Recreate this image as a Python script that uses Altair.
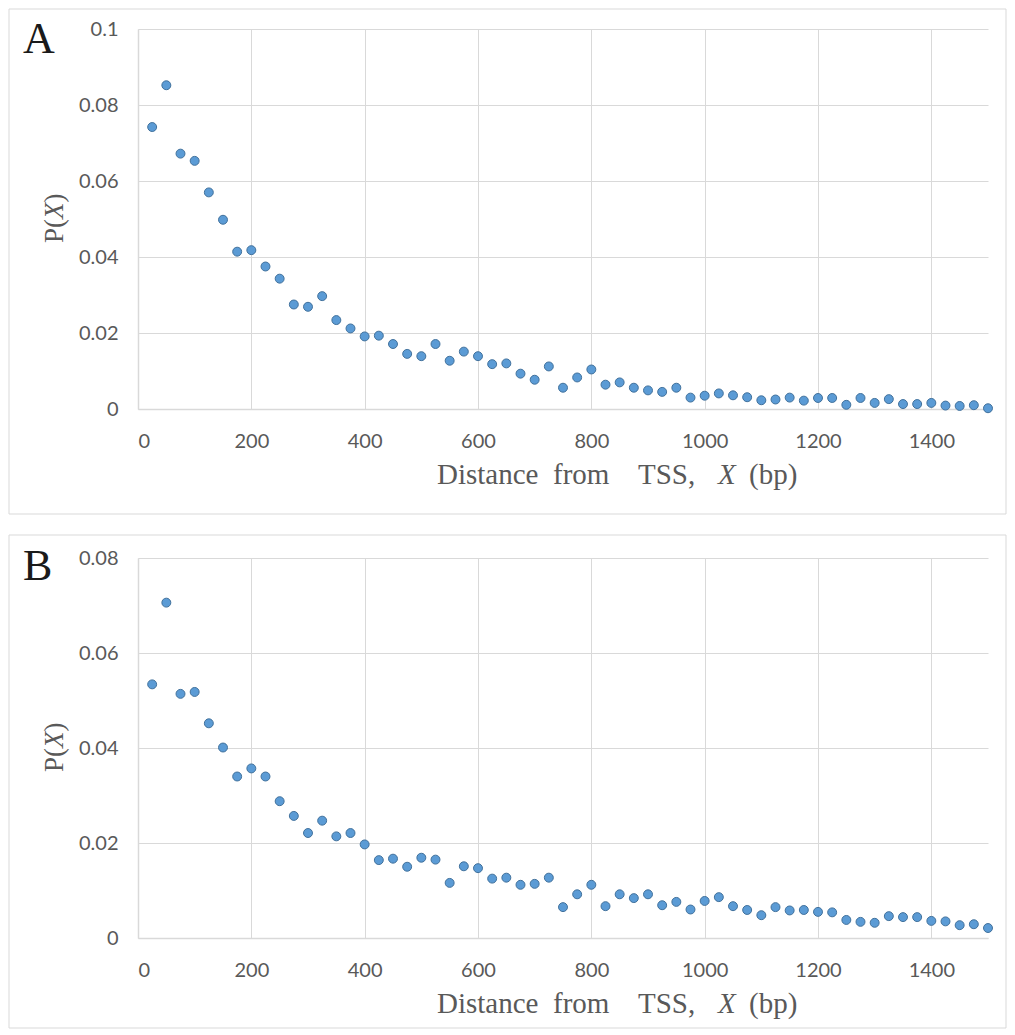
import altair as alt
import pandas as pd

distance = [25, 50, 75, 100, 125, 150, 175, 200, 225, 250, 275, 300, 325, 350, 375, 400,
            425, 450, 475, 500, 525, 550, 575, 600, 625, 650, 675, 700, 725, 750, 775, 800,
            825, 850, 875, 900, 925, 950, 975, 1000, 1025, 1050, 1075, 1100, 1125, 1150,
            1175, 1200, 1225, 1250, 1275, 1300, 1325, 1350, 1375, 1400, 1425, 1450, 1475, 1500]

p_a = [0.0742, 0.0852, 0.0672, 0.0653, 0.0570, 0.0498, 0.0414, 0.0418, 0.0375, 0.0343,
       0.0275, 0.0269, 0.0297, 0.0234, 0.0212, 0.0191, 0.0193, 0.0171, 0.0145, 0.0139,
       0.0171, 0.0127, 0.0151, 0.0139, 0.0118, 0.0120, 0.0093, 0.0077, 0.0112, 0.0056,
       0.0083, 0.0104, 0.0064, 0.0070, 0.0056, 0.0049, 0.0045, 0.0056, 0.0030, 0.0035,
       0.0041, 0.0036, 0.0031, 0.0023, 0.0025, 0.0030, 0.0022, 0.0029, 0.0029, 0.0011,
       0.0029, 0.0016, 0.0026, 0.0013, 0.0013, 0.0016, 0.0009, 0.0008, 0.0010, 0.0002]

p_b = [0.0534, 0.0706, 0.0514, 0.0518, 0.0452, 0.0401, 0.0340, 0.0357, 0.0340, 0.0288,
       0.0257, 0.0221, 0.0247, 0.0214, 0.0221, 0.0197, 0.0164, 0.0167, 0.0150, 0.0169,
       0.0165, 0.0116, 0.0151, 0.0147, 0.0125, 0.0127, 0.0112, 0.0114, 0.0127, 0.0065,
       0.0092, 0.0112, 0.0067, 0.0092, 0.0084, 0.0092, 0.0069, 0.0076, 0.0060, 0.0078,
       0.0086, 0.0067, 0.0059, 0.0048, 0.0065, 0.0058, 0.0059, 0.0055, 0.0054, 0.0038,
       0.0034, 0.0032, 0.0046, 0.0044, 0.0044, 0.0036, 0.0035, 0.0027, 0.0029, 0.0021]

x_ticks = [0, 200, 400, 600, 800, 1000, 1200, 1400]
y_ticks_a = [0, 0.02, 0.04, 0.06, 0.08, 0.1]
y_ticks_b = [0, 0.02, 0.04, 0.06, 0.08]

# axis title pieces: (text, italic?)
x_title_words = [("Distance", False), ("from", False), ("TSS,", False), ("X", True), ("(bp)", False)]
x_title_pos = [299, 415, 500, 580, 611]
y_title_parts = [("P(", False), ("X", True), (")", False)]
y_title_pos = [24, 0, -16.5]   # offsets from plot mid-height (upward)

GRAY = "#595959"
GRID = "#D9D9D9"
W, H = 850, 380
TITLE_SIZE_X = 29
TITLE_SIZE_Y = 27


def text_mark(txt, italic, size, x, y, angle=0):
    kw = dict(font="Liberation Serif", fontSize=size, align="left",
              baseline="alphabetic", color=GRAY)
    if italic:
        kw["fontStyle"] = "italic"
    if angle:
        kw["angle"] = angle
    return alt.Chart(pd.DataFrame({"t": [txt]})).mark_text(**kw).encode(
        text="t:N", x=alt.value(x), y=alt.value(y))


def panel(values, letter, ymax, yticks, border_top, border_bottom, letter_y):
    df = pd.DataFrame({"x": distance, "p": values})
    pts = alt.Chart(df).mark_circle(
        size=80, color="#5B9BD5", opacity=1, stroke="#41719C", strokeWidth=1
    ).encode(
        x=alt.X("x:Q",
                scale=alt.Scale(domain=[0, 1500], nice=False, zero=False),
                axis=alt.Axis(values=x_ticks, format="d", title="", labelPadding=22)),
        y=alt.Y("p:Q",
                scale=alt.Scale(domain=[0, ymax], nice=False),
                axis=alt.Axis(values=yticks, format=".2~f", title="", labelPadding=20)),
    )
    border = alt.Chart(pd.DataFrame({"d": [0]})).mark_rect(
        fill="white", fillOpacity=0, stroke=GRID, strokeWidth=1
    ).encode(
        x=alt.value(-129), x2=alt.value(868),
        y=alt.value(border_top), y2=alt.value(border_bottom),
    )
    layers = [border, pts]
    layers.append(alt.Chart(pd.DataFrame({"t": [letter]})).mark_text(
        font="Liberation Serif", fontSize=44, align="left", baseline="alphabetic",
        color="#1a1a1a"
    ).encode(text="t:N", x=alt.value(-115), y=alt.value(letter_y)))
    for (txt, it), px in zip(x_title_words, x_title_pos):
        layers.append(text_mark(txt, it, TITLE_SIZE_X, px, H + 75))
    for (txt, it), off in zip(y_title_parts, y_title_pos):
        layers.append(text_mark(txt, it, TITLE_SIZE_Y, -75, H / 2 + 24 - (24 - off) + 0 if False else H / 2 + off + 24 - 24 + 24 - 24 + 0 + (24 if off == 24 else off) - off + (0), angle=270))
    return alt.layer(*layers).properties(width=W, height=H)


chart_a = panel(p_a, "A", 0.1, y_ticks_a, -20, 485, 24)
chart_b = panel(p_b, "B", 0.08, y_ticks_b, -23, 470, 22)

chart = alt.vconcat(chart_a, chart_b, spacing=19).properties(
    padding={"left": 0, "top": 0, "right": 0, "bottom": 0}
).configure_view(strokeWidth=0).configure_axis(
    labelFont="Lato", labelFontSize=20, labelColor=GRAY,
    grid=True, gridColor=GRID, gridWidth=1,
    domainColor=GRID, domainWidth=1.5, ticks=False,
)

chart.save("out.html", embed_options={"renderer": "svg", "actions": False})
